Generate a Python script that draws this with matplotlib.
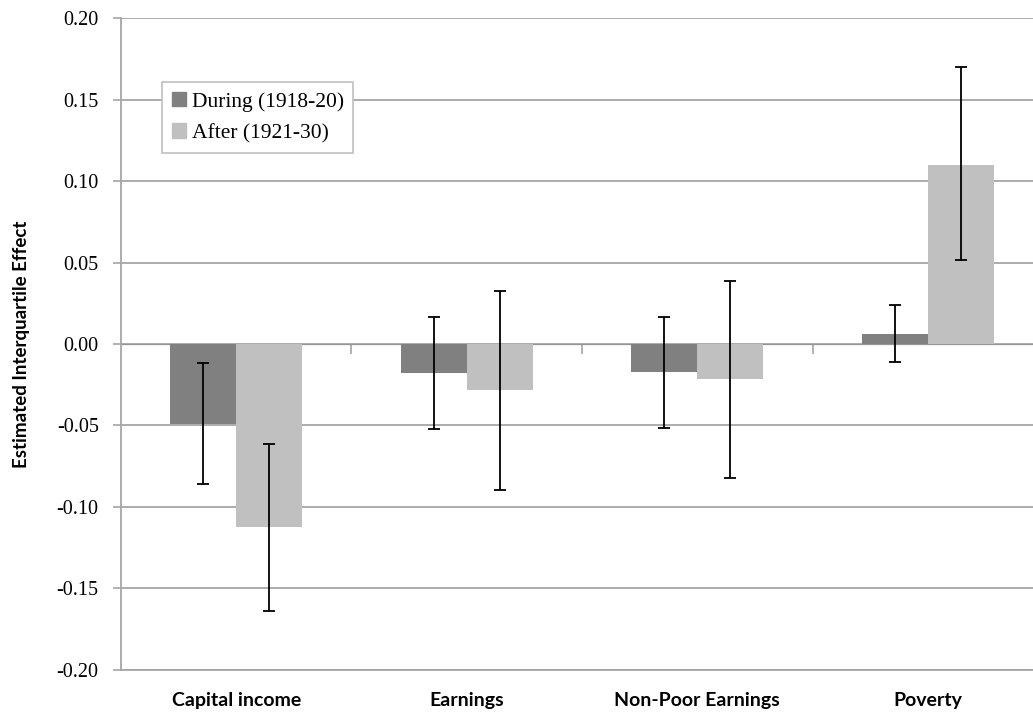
import numpy as np
import matplotlib
matplotlib.use('Agg')
import matplotlib.pyplot as plt
from matplotlib.patches import Patch

# estimated effects and 95% interval bounds
categories = ['Capital income', 'Earnings', 'Non-Poor Earnings', 'Poverty']
during = [-0.049, -0.018, -0.0175, 0.0063]
during_lo = [-0.086, -0.052, -0.0515, -0.011]
during_hi = [-0.0115, 0.0165, 0.0166, 0.024]
after = [-0.1123, -0.0282, -0.0217, 0.110]
after_lo = [-0.164, -0.090, -0.0825, 0.0515]
after_hi = [-0.0613, 0.0327, 0.0387, 0.170]
yticks = [-0.20, -0.15, -0.10, -0.05, 0.00, 0.05, 0.10, 0.15, 0.20]

dark = '#808080'
light = '#c0c0c0'
grid = '#a6a6a6'

fig = plt.figure(figsize=(10.33, 7.19), dpi=100)
ax = fig.add_axes([0.1171, 0.0688, 0.8926, 0.9057])

x = np.arange(len(categories)) + 0.5
w = 1 / 3.5

ax.bar(x - w / 2, during, w, color=dark, zorder=2)
ax.bar(x + w / 2, after, w, color=light, zorder=2)

d = np.array(during)
a = np.array(after)
ax.errorbar(x - w / 2, d, yerr=[d - np.array(during_lo), np.array(during_hi) - d],
            fmt='none', ecolor='black', elinewidth=1.3, capsize=4, capthick=1.3, zorder=3)
ax.errorbar(x + w / 2, a, yerr=[a - np.array(after_lo), np.array(after_hi) - a],
            fmt='none', ecolor='black', elinewidth=1.3, capsize=4, capthick=1.3, zorder=3)

ax.set_xlim(0, len(categories))
ax.set_ylim(-0.20, 0.20)
ax.set_yticks(yticks)
ax.set_yticklabels(['%.2f' % v for v in yticks], family='Liberation Serif', fontsize=14.5)
ax.yaxis.grid(True, color=grid, lw=1.3, zorder=0)
ax.tick_params(axis='y', direction='out', length=6, color=grid, width=1.2, pad=10)

ax.set_xticks(x)
ax.set_xticklabels(categories, family='Lato', fontweight='bold', fontsize=14)
ax.tick_params(axis='x', length=0, pad=16)

for s in ['top', 'right']:
    ax.spines[s].set_visible(False)
ax.spines['left'].set_color(grid)
ax.spines['left'].set_linewidth(1.3)
ax.spines['bottom'].set_color(grid)
ax.spines['bottom'].set_linewidth(1.3)

# horizontal category axis crossing at zero
sec = ax.secondary_xaxis(0.5)
sec.set_xticks(np.arange(1, len(categories)))
sec.set_xticklabels([])
sec.tick_params(direction='in', length=7, color=grid, width=1.2)
sec.spines['bottom'].set_color(grid)
sec.spines['bottom'].set_linewidth(1.3)

ax.set_ylabel('Estimated Interquartile Effect', family='Lato', fontweight='bold',
              fontsize=13.5, labelpad=19)

handles = [Patch(color=dark, label='During (1918-20)'),
           Patch(color=light, label='After (1921-30)')]
leg = ax.legend(handles=handles, loc='upper left', bbox_to_anchor=(0.045, 0.902),
                prop={'family': 'Liberation Serif', 'size': 15.5}, fancybox=False,
                edgecolor=light, handlelength=0.65, handleheight=0.65, handletextpad=0.25,
                borderpad=0.45, labelspacing=0.55, framealpha=1, borderaxespad=0)
leg.get_frame().set_linewidth(1.2)

fig.savefig('out.png', dpi=100)
